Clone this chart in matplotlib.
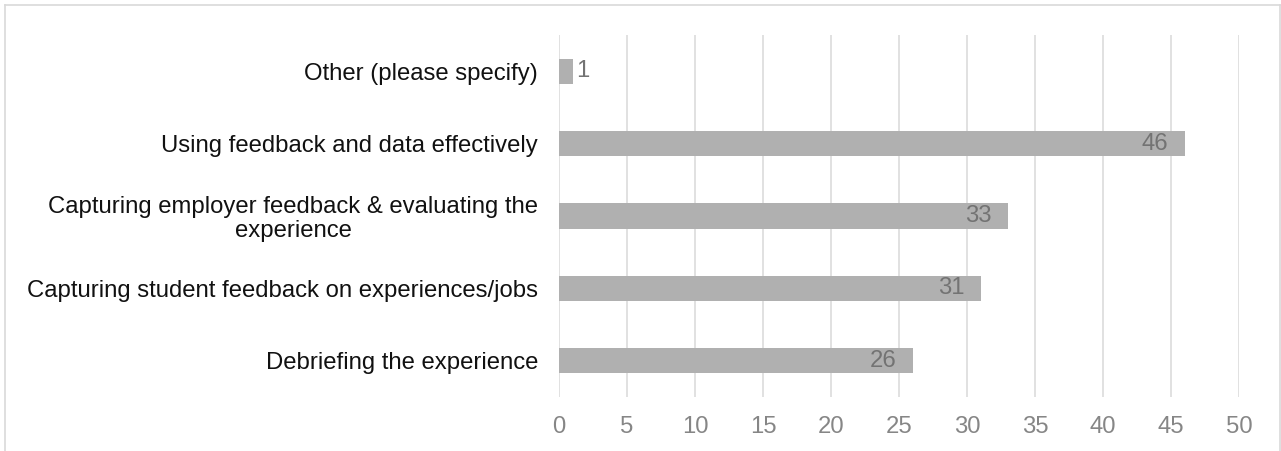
import matplotlib
matplotlib.use("Agg")
import matplotlib.pyplot as plt
from matplotlib.lines import Line2D

plt.rcParams['font.family'] = ['Liberation Sans', 'DejaVu Sans']

categories = [
    "Debriefing the experience",
    "Capturing student feedback on experiences/jobs",
    "Capturing employer feedback & evaluating the\nexperience",
    "Using feedback and data effectively",
    "Other (please specify)",
]
values = [26, 31, 33, 46, 1]
x_ticks = [0, 5, 10, 15, 20, 25, 30, 35, 40, 45, 50]

W, H = 1281, 451
FS = 17.2
fig = plt.figure(figsize=(W / 100, H / 100), dpi=100)
ax = fig.add_axes([559 / W, 1 - 397 / H, (1239 - 559) / W, (397 - 35) / H])

ypos = list(range(len(categories)))
ax.barh(ypos, values, height=0.35, color="#b0b0b0", zorder=3)

for y, v in zip(ypos, values):
    if v >= 5:
        ax.text(v - 1.2, y, str(v), ha="right", va="center",
                fontsize=FS, color="#737373", zorder=4)
    else:
        ax.text(v + 0.25, y, str(v), ha="left", va="center",
                fontsize=FS, color="#737373", zorder=4)

ax.set_xlim(0, 50)
ax.set_ylim(-0.5, len(categories) - 0.5)
ax.set_xticks(x_ticks)
ax.set_xticklabels([str(t) for t in x_ticks], fontsize=FS, color="#868686")
ax.set_yticks(ypos)
ax.set_yticklabels(categories, fontsize=FS, color="#111111")
for lbl in ax.get_yticklabels():
    lbl.set_multialignment("center")
    lbl.set_linespacing(1.08)
ax.tick_params(axis="both", length=0)
ax.tick_params(axis="x", pad=14)
ax.tick_params(axis="y", pad=15)
ax.grid(axis="x", color="#dcdcdc", linewidth=1.2, zorder=0)
for s in ax.spines.values():
    s.set_visible(False)

# light frame around the chart area
frame = dict(color="#d9d9d9", linewidth=1.2, transform=fig.transFigure)
fig.add_artist(Line2D([5 / W, 1280 / W], [1 - 5 / H, 1 - 5 / H], **frame))
fig.add_artist(Line2D([5 / W, 5 / W], [0, 1 - 5 / H], **frame))
fig.add_artist(Line2D([1280 / W, 1280 / W], [0, 1 - 5 / H], **frame))

fig.savefig("out.png", dpi=100, facecolor="white")
